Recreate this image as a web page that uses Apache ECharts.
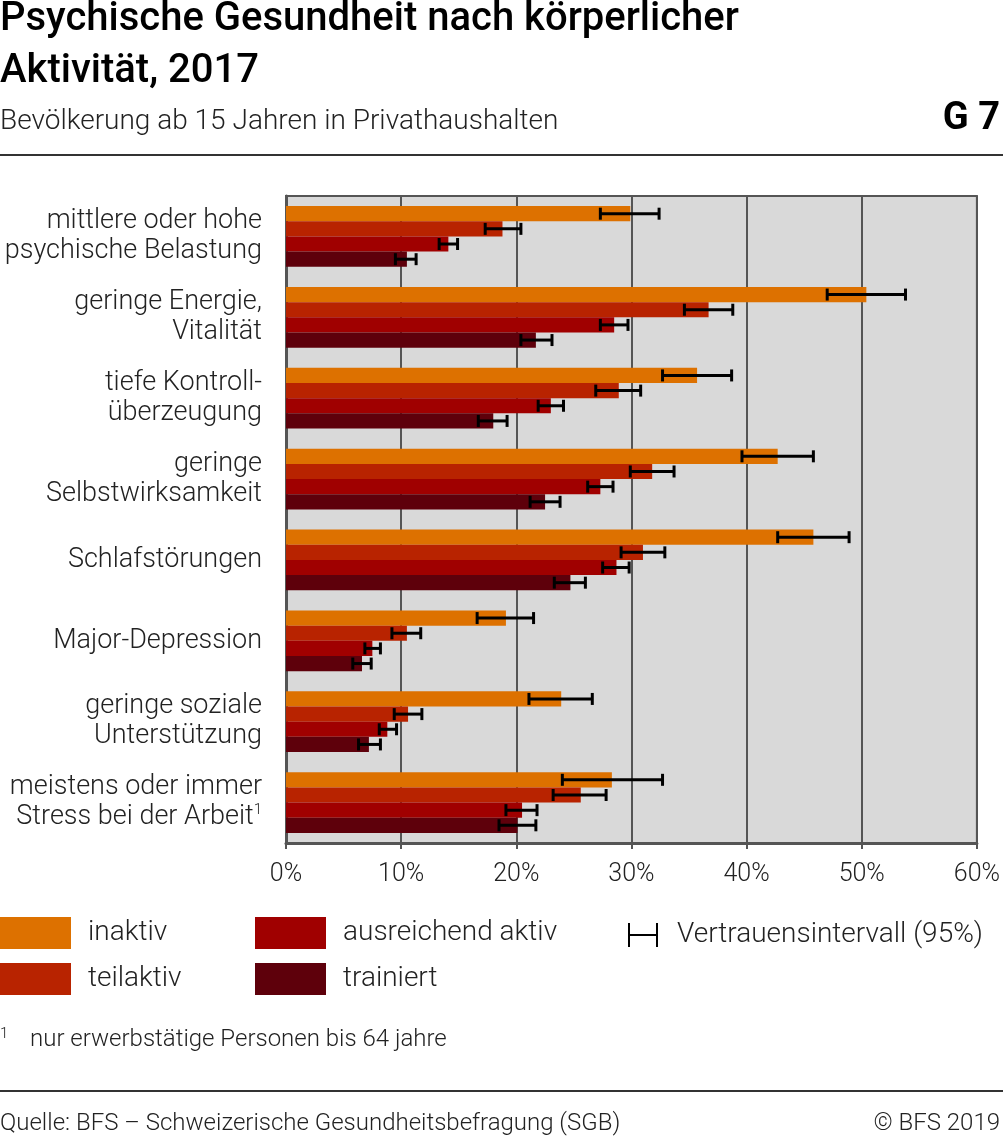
<!DOCTYPE html>
<html>
<head>
<meta charset="utf-8">
<script src="https://cdn.jsdelivr.net/npm/echarts@6/dist/echarts.min.js"></script>
<style>
html,body{margin:0;padding:0;background:#fff;}
#chart{width:1003px;height:1139px;}
</style>
</head>
<body>
<div id="chart"></div>
<script>
var categories = [
  "mittlere oder hohe\npsychische Belastung",
  "geringe Energie,\nVitalität",
  "tiefe Kontroll-\nüberzeugung",
  "geringe\nSelbstwirksamkeit",
  "Schlafstörungen",
  "Major-Depression",
  "geringe soziale\nUnterstützung",
  "meistens oder immer\nStress bei der Arbeit{sup|1}"
];
var seriesNames = ["inaktiv", "teilaktiv", "ausreichend aktiv", "trainiert"];
var inaktiv     = [29.9, 50.4, 35.7, 42.7, 45.8, 19.1, 23.9, 28.3];
var teilaktiv   = [18.8, 36.7, 28.9, 31.8, 31.0, 10.5, 10.6, 25.6];
var ausreichend = [14.1, 28.5, 23.0, 27.3, 28.7, 7.5, 8.8, 20.5];
var trainiert   = [10.5, 21.7, 18.0, 22.5, 24.7, 6.6, 7.2, 20.1];

var inaktivLo     = [27.3, 47.0, 32.7, 39.6, 42.7, 16.6, 21.1, 24.0];
var inaktivHi     = [32.4, 53.8, 38.7, 45.8, 48.9, 21.5, 26.6, 32.7];
var teilaktivLo   = [17.3, 34.6, 26.9, 29.9, 29.1, 9.2, 9.4, 23.2];
var teilaktivHi   = [20.4, 38.8, 30.8, 33.7, 32.9, 11.7, 11.8, 27.8];
var ausreichendLo = [13.3, 27.3, 21.9, 26.2, 27.5, 6.85, 8.1, 19.1];
var ausreichendHi = [14.9, 29.7, 24.1, 28.4, 29.8, 8.2, 9.6, 21.8];
var trainiertLo   = [9.5, 20.4, 16.7, 21.2, 23.3, 5.8, 6.3, 18.5];
var trainiertHi   = [11.3, 23.1, 19.2, 23.8, 26.0, 7.4, 8.2, 21.7];

var xTicks = [0, 10, 20, 30, 40, 50, 60];
var colors = ["#DD7100", "#B82300", "#A00000", "#5E000B"];

var values = [inaktiv, teilaktiv, ausreichend, trainiert];
var lows = [inaktivLo, teilaktivLo, ausreichendLo, trainiertLo];
var highs = [inaktivHi, teilaktivHi, ausreichendHi, trainiertHi];
var CAT_GAP = 0.25;

var ciData = [];
for (var s = 0; s < 4; s++) {
  for (var c = 0; c < categories.length; c++) {
    ciData.push([c, s, lows[s][c], highs[s][c]]);
  }
}

var FONT = "Roboto";
var chart = echarts.init(document.getElementById("chart"), null, {renderer: "canvas"});

var barSeries = seriesNames.map(function (n, i) {
  return {
    name: n,
    type: "bar",
    data: values[i],
    barGap: "0%",
    barCategoryGap: (CAT_GAP * 100) + "%",
    itemStyle: {color: colors[i]},
    silent: true,
    z: 2
  };
});

var ciSeries = {
  name: "Vertrauensintervall (95%)",
  type: "custom",
  data: ciData,
  z: 5,
  silent: true,
  itemStyle: {color: "#000"},
  encode: {x: [2, 3], y: 0},
  renderItem: function (params, api) {
    var cat = api.value(0), s = api.value(1), lo = api.value(2), hi = api.value(3);
    var p1 = api.coord([lo, cat]);
    var p2 = api.coord([hi, cat]);
    var band = api.size([0, 1])[1];
    var total = band * (1 - CAT_GAP);
    var bw = total / 4;
    var y = p1[1] - total / 2 + (s + 0.5) * bw;
    var h = 6;
    var st = {stroke: "#000", lineWidth: 3};
    return {
      type: "group",
      children: [
        {type: "line", shape: {x1: p1[0], y1: y, x2: p2[0], y2: y}, style: st},
        {type: "line", shape: {x1: p1[0], y1: y - h, x2: p1[0], y2: y + h}, style: st},
        {type: "line", shape: {x1: p2[0], y1: y - h, x2: p2[0], y2: y + h}, style: st}
      ]
    };
  }
};

var legendText = {fontFamily: FONT, fontWeight: 300, fontSize: 28, color: "#222", padding: [4, 0, 0, 12]};

var option = {
  animation: false,
  backgroundColor: "#fff",
  textStyle: {fontFamily: FONT},
  grid: {
    left: 286, right: 25, top: 196, bottom: 296,
    show: true, backgroundColor: "#D9D9D9", borderColor: "#555", borderWidth: 2
  },
  xAxis: {
    type: "value",
    min: xTicks[0], max: xTicks[xTicks.length - 1], interval: 10,
    axisLine: {show: true, lineStyle: {color: "#555", width: 3}},
    axisTick: {show: true, length: 6, lineStyle: {color: "#555", width: 2}},
    splitLine: {show: true, lineStyle: {color: "#555", width: 2}},
    axisLabel: {
      formatter: function (v) { return v + "%"; },
      fontFamily: FONT, fontWeight: 300, fontSize: 25, color: "#222", margin: 19
    }
  },
  yAxis: {
    type: "category",
    data: categories,
    inverse: true,
    axisLine: {show: true, lineStyle: {color: "#555", width: 3}},
    axisTick: {show: false},
    axisLabel: {
      fontFamily: FONT, fontWeight: 300, fontSize: 27, color: "#222",
      lineHeight: 30, margin: 24, align: "right",
      rich: {sup: {fontFamily: FONT, fontWeight: 300, fontSize: 15, verticalAlign: "top", lineHeight: 30, padding: [0, 0, 10, 0]}}
    }
  },
  legend: [
    {
      data: ["inaktiv", "teilaktiv"], orient: "vertical", left: 0, top: 917,
      itemWidth: 71, itemHeight: 32, itemGap: 14, icon: "rect", textStyle: legendText,
      selectedMode: false, padding: 0
    },
    {
      data: ["ausreichend aktiv", "trainiert"], orient: "vertical", left: 255, top: 917,
      itemWidth: 71, itemHeight: 32, itemGap: 14, icon: "rect", textStyle: legendText,
      selectedMode: false, padding: 0
    },
    {
      data: [{name: "Vertrauensintervall (95%)", icon: "path://M0,0H2V24H0Z M2,11H28V13H2Z M28,0H30V24H28Z", itemStyle: {color: "#000"}}],
      left: 628, top: 921, itemWidth: 30, itemHeight: 24, itemGap: 18,
      textStyle: {fontFamily: FONT, fontWeight: 300, fontSize: 28, color: "#222", padding: [4, 0, 0, 14]},
      selectedMode: false, padding: 0
    }
  ],
  graphic: [
    {type: "text", left: 0, top: -6, style: {text: "Psychische Gesundheit nach körperlicher\nAktivität, 2017", fontFamily: FONT, fontWeight: 500, fontSize: 40, lineHeight: 52, fill: "#000"}},
    {type: "text", left: 0, top: 108, style: {text: "Bevölkerung ab 15 Jahren in Privathaushalten", fontFamily: FONT, fontWeight: 300, fontSize: 28, fill: "#222"}},
    {type: "text", right: 3, top: 100, style: {text: "G 7", fontFamily: FONT, fontWeight: 700, fontSize: 38, fill: "#000", align: "right"}},
    {type: "rect", left: 0, top: 154, shape: {width: 1003, height: 2}, style: {fill: "#333"}},
    {type: "text", left: 0, top: 1027, style: {text: "1", fontFamily: FONT, fontWeight: 300, fontSize: 15, fill: "#222"}},
    {type: "text", left: 30, top: 1028, style: {text: "nur erwerbstätige Personen bis 64 jahre", fontFamily: FONT, fontWeight: 300, fontSize: 24, fill: "#222"}},
    {type: "rect", left: 0, top: 1090, shape: {width: 1003, height: 2}, style: {fill: "#333"}},
    {type: "text", left: 0, top: 1112, style: {text: "Quelle: BFS – Schweizerische Gesundheitsbefragung (SGB)", fontFamily: FONT, fontWeight: 300, fontSize: 24, fill: "#222"}},
    {type: "text", right: 3, top: 1112, style: {text: "© BFS 2019", fontFamily: FONT, fontWeight: 300, fontSize: 24, fill: "#222", align: "right"}}
  ],
  series: barSeries.concat([ciSeries])
};
chart.setOption(option);
</script>
</body>
</html>
